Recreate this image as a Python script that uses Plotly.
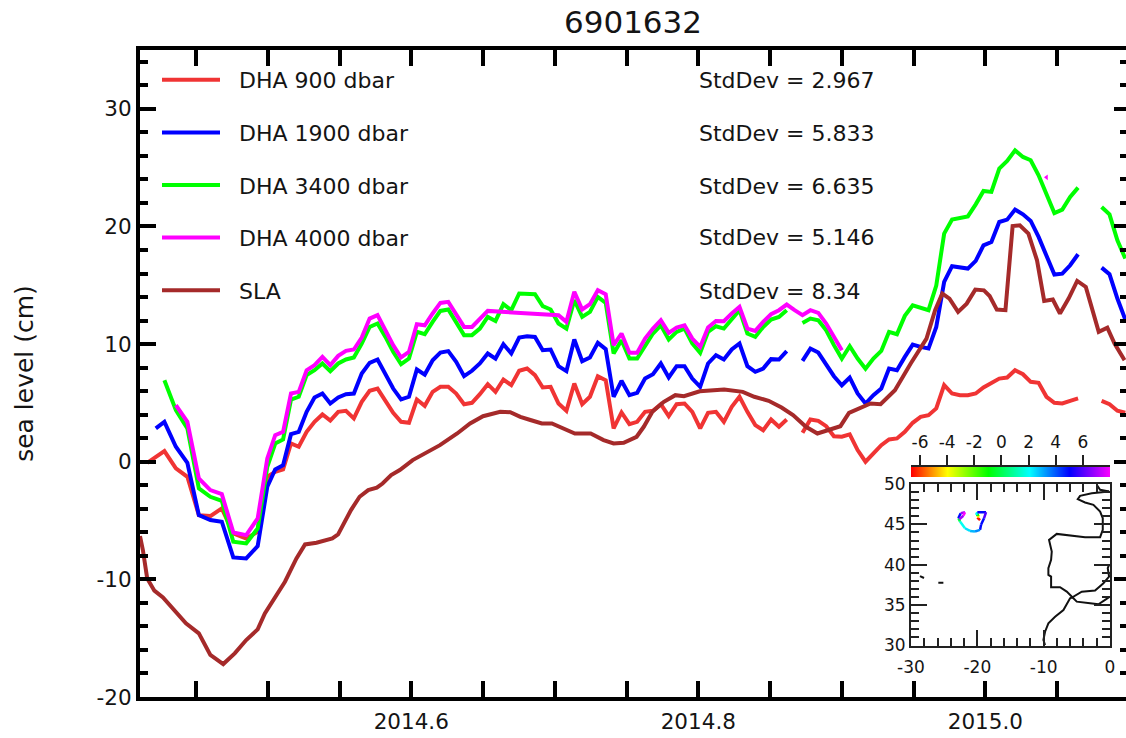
import plotly.graph_objects as go

title = "6901632"
names = ["DHA 900 dbar", "DHA 1900 dbar", "DHA 3400 dbar", "DHA 4000 dbar", "SLA"]
stddev = ["StdDev = 2.967", "StdDev = 5.833", "StdDev = 6.635", "StdDev = 5.146", "StdDev = 8.34"]
colors = ["#f03434", "#0000ff", "#00ff00", "#ff00ff", "#a52a2a"]

time = [2014.416, 2014.422, 2014.428, 2014.436, 2014.444, 2014.452, 2014.460, 2014.468, 2014.476, 2014.485, 2014.493,
        2014.4997, 2014.5052, 2014.5107, 2014.5162, 2014.5216, 2014.5271, 2014.5326, 2014.5381, 2014.5436, 2014.5491,
        2014.5545, 2014.5600, 2014.5655, 2014.5710, 2014.5765, 2014.5820, 2014.5874, 2014.5929, 2014.5984, 2014.6039,
        2014.6094, 2014.6149, 2014.6203, 2014.6258, 2014.6313, 2014.6368, 2014.6423, 2014.6478, 2014.6533, 2014.6587,
        2014.6642, 2014.6697, 2014.6752, 2014.6807, 2014.6862, 2014.6916, 2014.6971, 2014.7026, 2014.7081, 2014.7136,
        2014.7191, 2014.7245, 2014.7300, 2014.7355, 2014.7410, 2014.7465, 2014.7520, 2014.7574, 2014.7629, 2014.7684,
        2014.7739, 2014.7794, 2014.7849, 2014.7904, 2014.7958, 2014.8013, 2014.8068, 2014.8123, 2014.8178, 2014.8233,
        2014.8287, 2014.8342, 2014.8397, 2014.8452, 2014.8507, 2014.8562, 2014.8616, 2014.8671, 2014.8726, 2014.8781,
        2014.8836, 2014.8891, 2014.8945, 2014.9000, 2014.9055, 2014.9110, 2014.9165, 2014.9220, 2014.9275, 2014.9329,
        2014.9384, 2014.9439, 2014.9494, 2014.9549, 2014.9604, 2014.9658, 2014.9713, 2014.9768, 2014.9823, 2014.9878,
        2014.9933, 2014.9987, 2015.0042, 2015.0097, 2015.0152, 2015.0207, 2015.0262, 2015.0316, 2015.0371, 2015.0426,
        2015.0481, 2015.0536, 2015.0591, 2015.0646, 2015.0700, 2015.0755, 2015.0810, 2015.0865, 2015.0920, 2015.0975]

dha900 = [-0.09, 0.42, 0.9, -0.57, -1.28, -4.54, -4.62, -3.97, -6.1, -6.52, -5.95,
          -1.28, -0.86, -0.66, 1.55, 1.27, 2.54, 3.39, 4.02, 3.5, 4.24,
          4.33, 3.68, 5.09, 6.03, 6.22, 5.23, 4.16, 3.39, 3.31, 5.29,
          4.75, 5.94, 6.37, 6.37, 5.8, 4.89, 5.01, 5.74, 6.59, 5.94,
          6.99, 6.51, 7.73, 7.92, 7.36, 6.31, 6.37, 4.95, 4.33, 6.65,
          4.89, 5.52, 7.27, 6.93, 2.83, 4.19, 3.19, 3.39, 4.24, 4.33,
          4.89, 3.87, 4.89, 4.95, 4.24, 2.83, 4.16, 4.24, 3.39, 4.67,
          5.52, 4.24, 3.11, 2.68, 3.59, 2.97, 3.59, None, 2.46, 3.59,
          3.48, 3.02, 2.17, 2.12, 2.32, 0.99, 0.0, 0.76, 1.41, 1.89,
          1.98, 2.54, 3.31, 3.82, 3.96, 4.53, 6.51, 5.8, 5.66, 5.66,
          5.8, 6.31, 6.73, 7.07, 7.16, 7.78, 7.44, 6.79, 6.71, 5.52,
          5.01, 4.95, 5.18, 5.38, None, None, 5.18, 4.89, 4.33, 4.16]

dha1900 = [None, 2.83, 3.39, 1.27, -0.09, -4.54, -4.96, -5.1, -8.13, -8.22, -7.17,
           -2.13, -0.66, -0.29, 2.34, 2.54, 4.24, 5.46, 5.8, 4.95, 5.46,
           5.74, 5.8, 7.5, 8.41, 8.69, 7.36, 6.22, 5.29, 5.52, 7.84,
           7.41, 8.63, 9.28, 9.4, 8.49, 7.27, 7.73, 8.35, 9.2, 8.77,
           9.99, 9.2, 10.56, 10.67, 10.61, 9.48, 9.54, 8.12, 7.7, 10.39,
           8.55, 8.86, 10.1, 9.57, 5.52, 6.88, 5.66, 5.86, 7.07, 7.44,
           8.35, 7.16, 8.12, 8.12, 7.07, 6.37, 8.35, 9.06, 8.69, 9.54,
           10.05, 8.12, 7.64, 7.92, 8.72, 8.69, 9.4, None, 8.58, 9.62,
           9.28, 8.29, 7.27, 6.5, 7.16, 5.8, 4.95, 5.66, 6.22, 7.92,
           7.78, 8.91, 9.96, 9.76, 9.62, 11.46, 15.29, 16.62, 16.56, 16.42,
           17.07, 18.4, 18.68, 20.38, 20.58, 21.43, 21.03, 20.47, 19.11, 17.41,
           15.91, 15.99, 16.7, 17.64, None, None, 16.5, 15.94, 13.87, 12.09]

dha3400 = [None, None, 6.93, 4.38, 2.83, -2.27, -2.98, -3.32, -6.8, -6.94, -5.67,
           -0.43, 1.55, 1.89, 5.29, 5.52, 7.36, 7.78, 8.35, 7.7, 8.35,
           8.69, 8.86, 10.05, 11.46, 11.75, 10.61, 9.34, 8.29, 8.77, 11.04,
           10.84, 11.89, 12.82, 12.94, 11.89, 10.76, 10.76, 11.32, 12.31, 11.97,
           13.39, 12.88, 14.3, 14.3, 14.24, 13.22, 12.94, 11.75, 11.32, 13.73,
           12.31, 12.74, 14.01, 13.5, 9.2, 10.33, 8.77, 8.77, 9.91, 10.9,
           11.6, 10.39, 11.04, 11.32, 10.05, 9.26, 11.04, 11.52, 11.32, 12.17,
           12.88, 10.9, 10.61, 11.46, 12.09, 12.31, 12.88, None, 11.8, 12.17,
           12.03, 11.18, 9.91, 8.77, 9.82, 8.77, 7.9, 8.77, 9.42, 11.04,
           10.84, 12.4, 13.3, 13.1, 12.88, 14.98, 19.39, 20.58, 20.75, 20.86,
           21.88, 23.02, 22.94, 24.92, 25.57, 26.47, 25.91, 25.63, 24.35, 22.79,
           21.14, 21.43, 22.51, 23.3, None, None, 21.66, 21.03, 18.83, 17.27]

dha4000 = [None, None, None, 4.81, 3.39, -1.42, -2.41, -2.75, -6.01, -6.24, -4.82,
           0.28, 2.26, 2.54, 5.8, 5.94, 7.78, 8.21, 8.92, 8.21, 9.0,
           9.43, 9.54, 10.56, 12.17, 12.46, 11.18, 9.91, 8.86, 9.34, 11.69,
           11.6, 12.6, 13.5, 13.59, 12.6, 11.46, 11.46, 12.09, 12.82, None,
           None, None, None, None, None, None, None, 12.46, 11.89, 14.44,
           12.94, 13.39, 14.58, 14.24, 9.91, 10.9, 9.26, 9.26, 10.47, 11.32,
           12.03, 10.95, 11.41, 11.6, 10.47, 9.76, 11.41, 11.97, 11.95, 12.6,
           13.16, 11.32, 11.12, 11.89, 12.54, 12.88, 13.36, 12.88, 12.46, 12.88,
           12.65, 11.75, 10.61, 9.48, None, None, None, None, None, None,
           None, None, None, None, None, None, None, None, None, None,
           None, None, None, None, None, None, None, None, None, None,
           None, None, None, None, None, None, None, None, None, None]
dha4000_stray_t = [2015.0426]
dha4000_stray_v = [24.18]

sla_t = [2014.411, 2014.413, 2014.416, 2014.421, 2014.427, 2014.435, 2014.443, 2014.452, 2014.460, 2014.469,
         2014.477, 2014.485, 2014.493, 2014.498, 2014.504, 2014.512, 2014.520, 2014.526, 2014.534, 2014.545,
         2014.549, 2014.558, 2014.564, 2014.570, 2014.576, 2014.580, 2014.586, 2014.592, 2014.601, 2014.612,
         2014.620, 2014.632, 2014.641, 2014.650, 2014.662, 2014.669, 2014.676, 2014.683, 2014.691, 2014.698,
         2014.706, 2014.714, 2014.725, 2014.734, 2014.741, 2014.748, 2014.757, 2014.762, 2014.768, 2014.776,
         2014.784, 2014.790, 2014.801, 2014.808, 2014.818, 2014.831, 2014.839, 2014.849, 2014.858, 2014.866,
         2014.875, 2014.883, 2014.892, 2014.899, 2014.905, 2014.913, 2014.920, 2014.927, 2014.937, 2014.948,
         2014.959, 2014.965, 2014.970, 2014.975, 2014.981, 2014.987, 2014.993, 2014.999, 2015.003, 2015.008,
         2015.014, 2015.019, 2015.024, 2015.030, 2015.036, 2015.041, 2015.047, 2015.052, 2015.058, 2015.064,
         2015.070, 2015.079, 2015.085, 2015.090, 2015.097]
sla_v = [-6.32, -7.51, -9.92, -10.96, -11.53, -12.66, -13.74, -14.59, -16.43, -17.2,
         -16.29, -15.16, -14.25, -12.89, -11.76, -10.2, -8.22, -7.03, -6.89, -6.52,
         -6.18, -4.11, -2.98, -2.41, -2.21, -1.85, -1.14, -0.71, 0.14, 0.93,
         1.41, 2.4, 3.25, 3.87, 4.24, 4.21, 3.82, 3.55, 3.25, 3.25,
         2.83, 2.4, 2.4, 1.84, 1.55, 1.61, 2.12, 2.97, 4.24, 5.09,
         5.66, 5.57, 5.99, 6.08, 6.14, 5.94, 5.52, 5.18, 4.61, 3.96,
         2.97, 2.4, 2.74, 3.02, 4.15, 4.53, 4.95, 4.89, 6.08, 8.35,
         10.47, 12.88, 14.29, 13.87, 12.74, 13.44, 14.63, 14.57, 14.09, 12.93,
         12.88, 20.04, 20.1, 19.39, 17.12, 13.67, 13.79, 12.6, 13.87, 15.37,
         14.86, 11.04, 11.4, 10.05, 8.63]

main_xticks = [2014.6, 2014.8, 2015.0]
main_xlabels = ["2014.6", "2014.8", "2015.0"]
main_yticks = [-20, -10, 0, 10, 20, 30]
main_ylabels = ["-20", "-10", "0", "10", "20", "30"]

bar_stops = [-6.66, -4, -1, 2, 5, 8]
bar_colors = ["#ff0000", "#ffff00", "#00ff00", "#00ffff", "#0000ff", "#ff00ff"]
bar_ticks = [-6, -4, -2, 0, 2, 4, 6]
bar_labels = ["-6", "-4", "-2", "0", "2", "4", "6"]

inset_xticks = [-30, -20, -10, 0]
inset_xlabels = ["-30", "-20", "-10", "0"]
inset_yticks = [30, 35, 40, 45, 50]
inset_ylabels = ["30", "35", "40", "45", "50"]

coast_lon = [-2.0, -1.49, -0.14, None,
             -0.14, -2.75, -4.51, -4.86, -3.76, -2.5, -1.49, -1.09, -1.09, -1.49, -3.76, -5.77, -8.03, -9.19, -8.78,
             -8.88, -9.29, -9.29, -8.88, -8.88, -7.53, -6.52, -5.67, -4.26, -2.25, -0.99, -0.14, -0.34, -0.14, None,
             -5.67, -5.01, -3.0, -1.74, -0.74, -0.14, None,
             -5.67, -6.02, -7.02, -8.28, -9.29, -9.79, -10.04, -9.79, None,
             -25.88, -25.12, None, -28.64, -28.04]
coast_lat = [49.9, 49.28, 49.07, None,
             49.07, 48.86, 48.53, 48.12, 47.71, 47.42, 46.59, 45.76, 44.32, 43.41, 43.41, 43.57, 43.82, 43.08, 41.63,
             40.6, 39.57, 38.74, 38.53, 37.21, 37.21, 36.67, 35.97, 36.67, 36.8, 37.71, 38.53, 39.57, 39.98, None,
             35.97, 35.43, 35.23, 35.1, 35.64, 35.97, None,
             35.97, 35.85, 34.4, 33.57, 32.75, 31.71, 30.68, 30.06, None,
             37.78, 37.78, None, 38.6, 38.36]

track_lon = [-19.59, -20.0, -19.74, -20.2, -20.0, -18.69, -18.99, -19.44, -19.59, -20.35, -21.1, -21.86, -22.61, -22.86, -22.51, -21.86, -22.11, -22.71]
track_lat = [45.52, 45.85, 46.18, 46.18, 46.51, 46.51, 45.76, 44.94, 44.32, 44.11, 44.19, 44.52, 45.35, 45.76, 46.39, 46.51, 46.06, 45.64]
track_val = [-6.5, -4, -1, 2, 5, 6, 5, 5, 3.5, 3, 2.5, 2, 0, 5, 7, 8, 7, 5]

for s in (dha900, dha1900, dha3400, dha4000):
    assert len(s) == len(time), len(s)
assert len(sla_t) == len(sla_v)

FONT = "DejaVu Sans"
INK = "#141414"


def hue(v):
    return "hsl(%d,100%%,50%%)" % (300 * (v - bar_stops[0]) / (bar_stops[-1] - bar_stops[0]))


fig = go.Figure()
series = [dha900, dha1900, dha3400, dha4000]
PAD = "\u00a0\u00a0"
for i, s in enumerate(series):
    fig.add_trace(go.Scatter(x=time, y=s, mode="lines", name=PAD + names[i], connectgaps=(i == 3),
                             line=dict(color=colors[i], width=4), legendgroup=names[i]))
fig.add_trace(go.Scatter(x=dha4000_stray_t, y=dha4000_stray_v, mode="markers", showlegend=False,
                         marker=dict(color=colors[3], size=5, symbol="triangle-left")))
fig.add_trace(go.Scatter(x=sla_t, y=sla_v, mode="lines", name=PAD + names[4],
                         line=dict(color=colors[4], width=4), legendgroup=names[4]))
fig.add_trace(go.Scatter(x=[None], y=[None], yaxis="y4", showlegend=False, mode="lines"))

fig.add_trace(go.Heatmap(x=bar_stops, y=[0, 1], z=[bar_stops, bar_stops], xaxis="x3", yaxis="y3", showscale=False,
                         zsmooth="best", zmin=bar_stops[0], zmax=bar_stops[-1],
                         colorscale=[[(v - bar_stops[0]) / (bar_stops[-1] - bar_stops[0]), c]
                                     for v, c in zip(bar_stops, bar_colors)]))
fig.add_trace(go.Scatter(x=coast_lon, y=coast_lat, xaxis="x2", yaxis="y2", mode="lines", showlegend=False,
                         line=dict(color="#111111", width=2)))
for i in range(len(track_lon) - 1):
    fig.add_trace(go.Scatter(x=track_lon[i:i + 2], y=track_lat[i:i + 2], xaxis="x2", yaxis="y2", mode="lines",
                             showlegend=False, line=dict(color=hue(track_val[i]), width=2.5)))

L, R, T, B = 140, 1126, 50, 697
W, H = 1126, 738


def dx(p):
    return (p - L) / (R - L)


def dy(p):
    return (B - p) / (B - T)


main_tick = dict(ticks="inside", ticklen=16, tickwidth=4, tickcolor="black", linecolor="black", linewidth=4,
                 showgrid=False, zeroline=False, tickmode="array")
fig.update_layout(
    width=W, height=H, autosize=False, paper_bgcolor="white", plot_bgcolor="white",
    margin=dict(l=L, r=W - R, t=T, b=H - B, autoexpand=False),
    font=dict(family=FONT, size=22, color=INK),
    title=dict(text=title, x=633 / W, xanchor="center", y=1 - 22 / H, yanchor="middle",
               font=dict(family=FONT, size=31, color=INK)),
    xaxis=dict(range=[2014.411, 2015.098], tickvals=main_xticks, ticktext=main_xlabels, mirror="allticks",
               showline=True, minor=dict(ticks="inside", ticklen=8, tickwidth=4, tickcolor="black",
                                         tickmode="linear", tick0=2014.6, dtick=0.05, showgrid=False),
               tickfont=dict(size=21.5), ticklabelstandoff=2, **main_tick),
    yaxis=dict(range=[-20, 35], tickvals=main_yticks, ticktext=main_ylabels, showline=True,
               minor=dict(ticks="inside", ticklen=8, tickwidth=4, tickcolor="black",
                          tickmode="linear", tick0=-20, dtick=2, showgrid=False),
               title=dict(text="sea level (cm)", font=dict(size=25), standoff=57), tickfont=dict(size=21.5),
               **main_tick),
    yaxis4=dict(range=[-20, 35], overlaying="y", side="right", anchor="x", showline=False, showticklabels=False,
                tickvals=main_yticks, ticks="inside", ticklen=12, tickwidth=4, tickcolor="black", tickmode="array",
                showgrid=False, zeroline=False,
                minor=dict(ticks="inside", ticklen=6, tickwidth=4, tickcolor="black",
                           tickmode="linear", tick0=-20, dtick=2, showgrid=False)),
    xaxis2=dict(domain=[dx(911), dx(1110)], range=[-30, 0], anchor="y2", tickmode="array",
                tickvals=inset_xticks, ticktext=inset_xlabels, ticks="inside", ticklen=16, tickwidth=2,
                tickcolor="#222222", showline=True, linecolor="#222222", linewidth=2, mirror="allticks",
                showgrid=False, zeroline=False, tickfont=dict(size=17), ticklabelstandoff=5,
                minor=dict(ticks="inside", ticklen=8, tickwidth=2, tickcolor="#222222",
                           tickmode="linear", tick0=-30, dtick=2, showgrid=False)),
    yaxis2=dict(domain=[dy(645.5), dy(484)], range=[30, 50], anchor="x2", tickmode="array",
                tickvals=inset_yticks, ticktext=inset_ylabels, ticks="inside", ticklen=16, tickwidth=2,
                tickcolor="#222222", showline=True, linecolor="#222222", linewidth=2, mirror="allticks",
                showgrid=False, zeroline=False, tickfont=dict(size=17),
                minor=dict(ticks="inside", ticklen=8, tickwidth=2, tickcolor="#222222",
                           tickmode="linear", tick0=30, dtick=1, showgrid=False)),
    xaxis3=dict(domain=[dx(911), dx(1110)], range=[bar_stops[0], bar_stops[-1]], anchor="y3", side="top",
                tickmode="array", tickvals=bar_ticks, ticktext=bar_labels, ticks="outside", ticklen=10, tickwidth=1.5,
                tickcolor="#222222", showline=True, linecolor="#222222", linewidth=1.5, showgrid=False,
                zeroline=False, tickfont=dict(size=17)),
    yaxis3=dict(domain=[dy(477), dy(467)], range=[0, 1], anchor="x3", showticklabels=False, ticks="",
                showgrid=False, zeroline=False, showline=False),
    legend=dict(x=dx(157), xanchor="left", y=dy(59), yanchor="top", bgcolor="rgba(0,0,0,0)", borderwidth=0,
                itemwidth=58, tracegroupgap=21, font=dict(family=FONT, size=22, color=INK), itemclick=False),
    annotations=[dict(text=t, xref="paper", yref="paper", x=dx(697), xanchor="left", y=dy(p), yanchor="middle",
                      showarrow=False, font=dict(family=FONT, size=22, color=INK))
                 for t, p in zip(stddev, [80, 133, 186, 238, 291])],
)

fig.write_html("out.html", config={"displayModeBar": False},
               post_script="document.body.style.margin='0';document.body.style.overflow='hidden';")
